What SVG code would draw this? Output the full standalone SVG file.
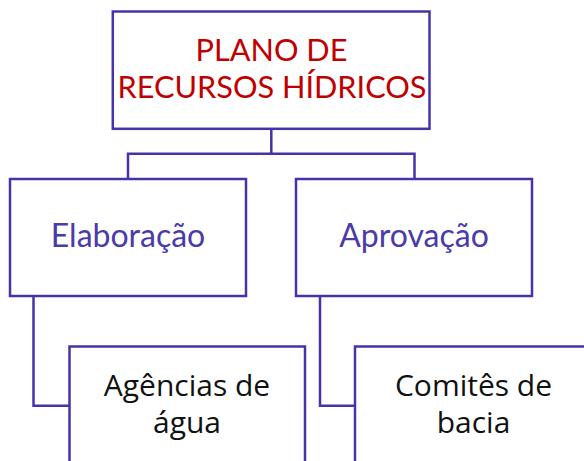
<svg xmlns="http://www.w3.org/2000/svg" width="584" height="461" viewBox="0 0 584 461">
<style>
.box{fill:#fff;stroke:#4434A8;stroke-width:2.5}
.conn{fill:none;stroke:#4434A8;stroke-width:2.5}
.t1{font-family:Lato,"Liberation Sans",sans-serif;font-size:30.7px;fill:#C00000;text-anchor:middle}
.t2{font-family:Lato,"Liberation Sans",sans-serif;font-size:32px;fill:#4A3AAA;text-anchor:middle}
.t3{font-family:"Open Sans","Liberation Sans",sans-serif;font-size:30px;fill:#111;text-anchor:middle}
</style>
<rect width="584" height="461" fill="#fff"/>
<g id="connectors">
<path class="conn" d="M128 179V153.8H414.5V179M271.3 128.8V153.8"/>
<path class="conn" d="M33.5 296V405.8H69.5"/>
<path class="conn" d="M320 296V405.8H355"/>
</g>
<g id="plano">
<rect class="box" x="112.8" y="11.5" width="316.7" height="117.3"/>
<text class="t1" x="271.5" y="61">PLANO DE</text>
<text class="t1" x="272" y="98.3">RECURSOS HÍDRICOS</text>
</g>
<g id="elaboracao">
<rect class="box" x="10" y="179" width="236" height="117"/>
<text class="t2" x="128" y="247.3">Elaboração</text>
</g>
<g id="aprovacao">
<rect class="box" x="296" y="179" width="236" height="117"/>
<text class="t2" x="414" y="247.3">Aprovação</text>
</g>
<g id="agencias">
<rect class="box" x="69.5" y="346.5" width="235.5" height="130"/>
<text class="t3" x="187" y="395.7">Agências de</text>
<text class="t3" x="187" y="432.7">água</text>
</g>
<g id="comites">
<rect class="box" x="355" y="346.5" width="250" height="130"/>
<text class="t3" x="473.5" y="395.7">Comitês de</text>
<text class="t3" x="473.5" y="432.7">bacia</text>
</g>
</svg>
